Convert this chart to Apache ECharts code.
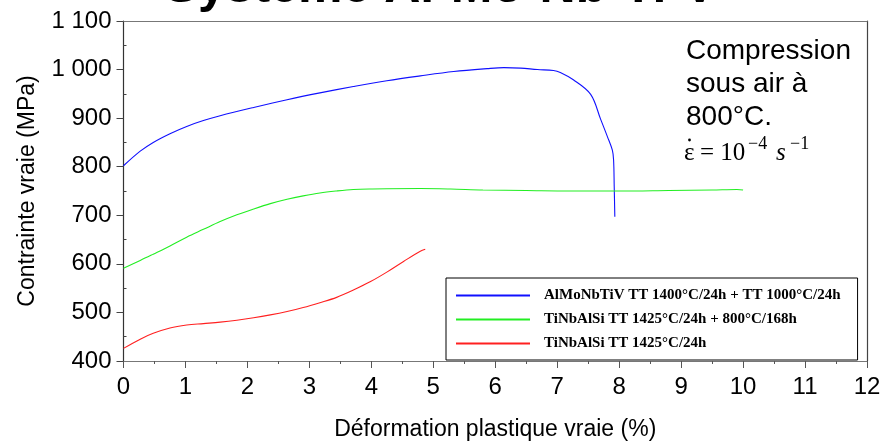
<!DOCTYPE html>
<html>
<head>
<meta charset="utf-8">
<script src="https://cdn.jsdelivr.net/npm/echarts@6/dist/echarts.min.js"></script>
<style>html,body{margin:0;padding:0;background:#fff}#c{width:881px;height:443px}</style>
</head>
<body>
<div id="c"></div>
<script>
// ---- data (strain %, true stress MPa) ----
const seriesNames = [
  'AlMoNbTiV TT 1400°C/24h + TT 1000°C/24h',
  'TiNbAlSi TT 1425°C/24h + 800°C/168h',
  'TiNbAlSi TT 1425°C/24h'
];
const blueStrain = [0, 0.27, 0.48, 0.75, 1.02, 1.29, 1.56, 2.10, 2.64, 3.17, 3.71, 4.25, 4.79, 5.33, 5.87, 6.14, 6.41, 6.68, 6.94, 7.05, 7.26, 7.54, 7.70, 7.81, 7.89, 7.91, 7.92, 7.93];
const blueStress = [802, 832, 850, 868, 883, 895, 905, 922, 938, 952, 965, 977, 987, 996, 1002, 1004, 1003, 1000, 998, 994, 979, 949, 898, 862, 834, 814, 760, 697];
const greenStrain = [0, 0.27, 0.48, 0.75, 1.02, 1.29, 1.56, 1.83, 2.10, 2.37, 2.64, 2.90, 3.17, 3.44, 3.71, 3.98, 4.79, 5.28, 5.8, 6.5, 7.2, 8.0, 8.8, 9.5, 9.9, 10.0];
const greenStress = [591, 607, 620, 637, 655, 671, 687, 701, 713, 724, 733, 740, 746, 750, 753, 754, 755, 754, 752, 751, 750, 750, 751, 752, 753, 752];
const redStrain = [0, 0.27, 0.48, 0.75, 1.02, 1.29, 1.56, 1.83, 2.10, 2.37, 2.64, 2.90, 3.17, 3.44, 3.71, 3.98, 4.25, 4.52, 4.79, 4.87];
const redStress = [426, 445, 457, 468, 474, 477, 480, 484, 489, 495, 502, 510, 520, 531, 546, 563, 583, 605, 626, 630];
const xTicks = {min: 0, max: 12, step: 1};
const yTicks = {min: 400, max: 1100, step: 100};

const zip = (a, b) => a.map((v, i) => [v, b[i]]);
const fmtThousands = v => String(v).replace(/\B(?=(\d{3})+(?!\d))/g, ' ');

const chart = echarts.init(document.getElementById('c'), null, {renderer: 'canvas'});
const sans = 'Liberation Sans, Arial, sans-serif';
const serif = 'Liberation Serif, Times New Roman, serif';

chart.setOption({
  animation: false,
  backgroundColor: '#fff',
  grid: {left: 123.5, right: 14, top: 21, bottom: 82, containLabel: false, outerBoundsMode: 'none'},
  xAxis: [{
    type: 'value', min: xTicks.min, max: xTicks.max, interval: xTicks.step, position: 'bottom',
    axisLine: {show: true, onZero: false, lineStyle: {color: '#777', width: 1.2}},
    axisTick: {show: true, length: 7, lineStyle: {color: '#555', width: 1}},
    minorTick: {show: true, splitNumber: 2, length: 3, lineStyle: {color: '#555', width: 1}},
    splitLine: {show: false},
    axisLabel: {fontSize: 24, color: '#000', fontFamily: sans, margin: 14},
    name: 'Déformation plastique vraie (%)', nameLocation: 'middle', nameGap: 57,
    nameTextStyle: {fontSize: 23, color: '#000', fontFamily: sans}
  }, {
    type: 'value', min: xTicks.min, max: xTicks.max, position: 'top',
    axisLine: {show: true, onZero: false, lineStyle: {color: '#777', width: 1.2}},
    axisTick: {show: false}, axisLabel: {show: false}, splitLine: {show: false}
  }],
  yAxis: [{
    type: 'value', min: yTicks.min, max: yTicks.max, interval: yTicks.step, position: 'left',
    axisLine: {show: true, onZero: false, lineStyle: {color: '#333', width: 1.2}},
    axisTick: {show: true, length: 7, lineStyle: {color: '#444', width: 1}},
    minorTick: {show: false},
    splitLine: {show: false},
    axisLabel: {fontSize: 24, color: '#000', fontFamily: sans, margin: 12, formatter: fmtThousands},
    name: 'Contrainte vraie (MPa)', nameLocation: 'middle', nameGap: 84,
    nameTextStyle: {fontSize: 23, color: '#000', fontFamily: sans}
  }, {
    type: 'value', min: yTicks.min, max: yTicks.max, position: 'right',
    axisLine: {show: true, onZero: false, lineStyle: {color: '#444', width: 1.2}},
    axisTick: {show: false}, axisLabel: {show: false}, splitLine: {show: false}
  }, {
    type: 'value', min: yTicks.min, max: yTicks.max, interval: yTicks.step, position: 'left', offset: 0,
    axisLine: {show: false},
    axisTick: {show: false, inside: true},
    minorTick: {show: true, splitNumber: 2, length: 3, lineStyle: {color: '#444', width: 1}},
    axisLabel: {show: false}, splitLine: {show: false}
  }],
  legend: {
    orient: 'vertical', left: 446, top: 278,
    padding: [10, 17, 9, 10], itemGap: 9, itemWidth: 74, itemHeight: 2, icon: 'rect',
    backgroundColor: '#fff', borderColor: '#000', borderWidth: 1, borderRadius: 0,
    textStyle: {fontFamily: serif, fontWeight: 'bold', fontSize: 15, lineHeight: 14, color: '#000', padding: [0, 0, 0, 9]},
    data: seriesNames
  },
  series: [
    {name: seriesNames[0], type: 'line', data: zip(blueStrain, blueStress), symbol: 'none', smooth: 0.35,
     lineStyle: {color: '#1010ff', width: 1.1}, itemStyle: {color: '#1010ff'}},
    {name: seriesNames[1], type: 'line', data: zip(greenStrain, greenStress), symbol: 'none', smooth: 0.35,
     lineStyle: {color: '#22ee22', width: 1.1}, itemStyle: {color: '#22ee22'}},
    {name: seriesNames[2], type: 'line', data: zip(redStrain, redStress), symbol: 'none', smooth: 0.35,
     lineStyle: {color: '#ff2020', width: 1.1}, itemStyle: {color: '#ff2020'}}
  ],
  graphic: [
    {type: 'text', left: 'center', y: -12, silent: true,
     style: {text: 'Système Al-Mo-Nb-Ti-V', font: 'bold 50px ' + sans, fill: '#000', verticalAlign: 'middle'}},
    {type: 'text', x: 686, y: 51, silent: true, style: {text: 'Compression', font: '28px ' + sans, fill: '#000', verticalAlign: 'middle'}},
    {type: 'text', x: 686, y: 84, silent: true, style: {text: 'sous air à', font: '28px ' + sans, fill: '#000', verticalAlign: 'middle'}},
    {type: 'text', x: 686, y: 117, silent: true, style: {text: '800°C.', font: '28px ' + sans, fill: '#000', verticalAlign: 'middle'}},
    {type: 'text', x: 684, y: 153, silent: true, style: {text: 'ε', font: '25px ' + serif, fill: '#000', verticalAlign: 'middle'}},
    {type: 'circle', silent: true, shape: {cx: 689.5, cy: 140, r: 1.4}, style: {fill: '#000'}},
    {type: 'text', x: 700, y: 153, silent: true, style: {text: '= 10', font: '25px ' + serif, fill: '#000', verticalAlign: 'middle'}},
    {type: 'text', x: 748, y: 144, silent: true, style: {text: '−4', font: '18px ' + serif, fill: '#000', verticalAlign: 'middle'}},
    {type: 'text', x: 776, y: 153, silent: true, style: {text: 's', font: 'italic 25px ' + serif, fill: '#000', verticalAlign: 'middle'}},
    {type: 'text', x: 790, y: 144, silent: true, style: {text: '−1', font: '18px ' + serif, fill: '#000', verticalAlign: 'middle'}}
  ]
});
</script>
</body>
</html>
